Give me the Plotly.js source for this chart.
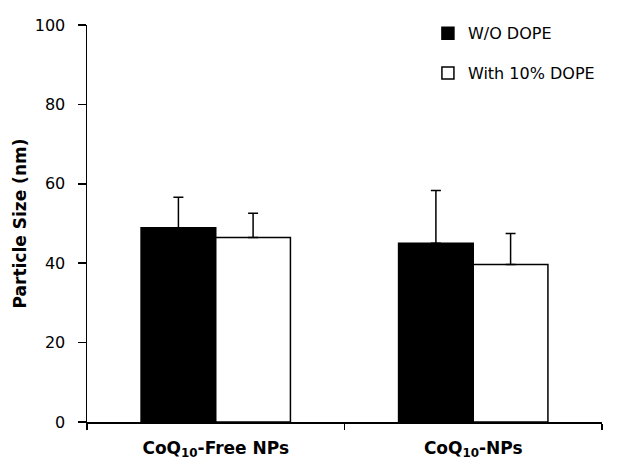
<!DOCTYPE html>
<html><head><meta charset="utf-8">
<script src="https://cdn.plot.ly/plotly-3.0.1.min.js"></script>
<style>html,body{margin:0;padding:0;background:#fff}#chart{width:618px;height:462px}</style>
</head><body><div id="chart"></div>
<script>
const categories = ["CoQ<sub>10</sub>-Free NPs", "CoQ<sub>10</sub>-NPs"];
const seriesNames = ["W/O DOPE", "With 10% DOPE"];
const woDope = [48.9, 45.0];
const woDopeErr = [7.7, 13.3];
const withDope = [46.5, 39.7];
const withDopeErr = [6.1, 7.8];
const yTicks = [0, 20, 40, 60, 80, 100];

const font = {family: "DejaVu Sans, Liberation Sans, Arial, sans-serif", color: "#000"};
const traces = [
  {type: "bar", name: seriesNames[0], x: categories, y: woDope,
   marker: {color: "#000", line: {color: "#000", width: 1.5}},
   error_y: {type: "data", array: woDopeErr, arrayminus: [0,0], symmetric: false, color: "#000", thickness: 1.5, width: 5},
   legendgroup: "a"},
  {type: "bar", name: seriesNames[1], x: categories, y: withDope,
   marker: {color: "#fff", line: {color: "#000", width: 1.5}},
   error_y: {type: "data", array: withDopeErr, arrayminus: [0,0], symmetric: false, color: "#000", thickness: 1.5, width: 5},
   legendgroup: "b"}
];
const layout = {
  width: 618, height: 462,
  margin: {l: 87, r: 16, t: 25, b: 40},
  paper_bgcolor: "#fff", plot_bgcolor: "#fff",
  barmode: "group", bargap: 0.42, bargroupgap: 0,
  font: Object.assign({size: 16}, font),
  showlegend: true,
  legend: {x: 0.662, y: 1.022, xanchor: "left", yanchor: "top", bgcolor: "rgba(0,0,0,0)",
           font: Object.assign({size: 16}, font), tracegroupgap: 16, itemwidth: 30, traceorder: "grouped"},
  xaxis: {showline: true, linecolor: "#000", linewidth: 1.5, ticks: "outside", tickson: "boundaries",
          ticklen: 6, tickcolor: "#000", tickwidth: 1.5, showgrid: false, zeroline: false,
          ticklabelstandoff: 10,
          tickfont: Object.assign({size: 17, weight: "bold"}, font)},
  yaxis: {range: [0, 100], tickvals: yTicks, showline: true, linecolor: "#000", linewidth: 1.5,
          ticks: "outside", ticklen: 8, tickcolor: "#000", tickwidth: 1.5, showgrid: false, zeroline: false,
          ticklabelstandoff: 9,
          tickfont: Object.assign({size: 16}, font),
          title: {text: "<b>Particle Size (nm)</b>", font: Object.assign({size: 17}, font), standoff: 4}}
};
Plotly.newPlot("chart", traces, layout, {displayModeBar: false, staticPlot: true});
</script></body></html>
